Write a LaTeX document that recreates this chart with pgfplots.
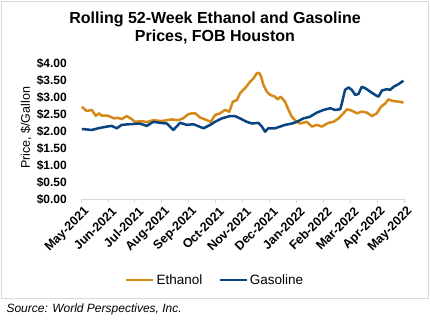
\documentclass[border=0pt]{standalone}
\usepackage{pgfplots}
\pgfplotsset{compat=1.18}
\usepackage{fontspec}
\setmainfont{Liberation Sans}
\definecolor{eth}{RGB}{214,137,22}
\definecolor{gas}{RGB}{10,68,128}
\definecolor{frame}{RGB}{217,217,217}
\begin{document}
\begin{tikzpicture}[x=1pt,y=1pt]
\useasboundingbox (0,0) rectangle (430,322);
\fill[white] (0,0) rectangle (430,322);
\draw[frame, line width=0.8pt] (1,24) rectangle (428,321);
\node[align=center, font=\bfseries\fontsize{16}{18}\selectfont] at (215,294) {Rolling 52-Week Ethanol and Gasoline\\Prices, FOB Houston};
\node[rotate=90, font=\fontsize{12.5}{15}\selectfont] at (26,194) {Price, \$/Gallon};
\node[anchor=west, font=\itshape\fontsize{12}{14}\selectfont] at (3,13) {Source: World Perspectives, Inc.};
\begin{axis}[
  at={(81pt,123pt)}, anchor=south west,
  scale only axis, width=323pt, height=136pt,
  xmin=0, xmax=12, ymin=0, ymax=4,
  axis lines*=left,
  y axis line style={draw=none},
  x axis line style={draw=frame, line width=0.8pt},
  xtick={0,1,2,3,4,5,6,7,8,9,10,11,12},
  xticklabels={May-2021,Jun-2021,Jul-2021,Aug-2021,Sep-2021,Oct-2021,Nov-2021,Dec-2021,Jan-2022,Feb-2022,Mar-2022,Apr-2022,May-2022},
  xticklabel style={rotate=45, anchor=east, font=\bfseries\fontsize{12.5}{15}\selectfont, inner sep=1pt, yshift=-9pt, xshift=1pt},
  tick align=outside, major tick length=4pt,
  xtick style={draw=frame, line width=0.8pt},
  ytick={0,0.5,1,1.5,2,2.5,3,3.5,4},
  yticklabels={\$0.00,\$0.50,\$1.00,\$1.50,\$2.00,\$2.50,\$3.00,\$3.50,\$4.00},
  yticklabel style={font=\bfseries\fontsize{12}{14}\selectfont, inner sep=1pt, xshift=-9pt},
  ytick style={draw=none},
  legend columns=2,
  legend style={draw=none, at={(0.415,-0.596)}, anchor=center, font=\fontsize{13.5}{15}\selectfont,
    /tikz/every even column/.append style={column sep=14pt}},
  legend image code/.code={\draw[line width=2.5pt] (0pt,0pt) -- (27pt,0pt);},
]
\addplot[eth, line width=2.5pt, line join=round] coordinates {
(0.03,2.71)(0.21,2.59)(0.40,2.62)(0.55,2.45)(0.67,2.52)(0.77,2.45)(1.00,2.45)(1.23,2.37)(1.36,2.39)(1.51,2.35)
(1.70,2.44)(1.88,2.35)(2.01,2.27)(2.26,2.29)(2.44,2.26)(2.68,2.32)(3.00,2.29)(3.19,2.32)(3.37,2.34)(3.61,2.32)
(3.79,2.37)(3.98,2.49)(4.12,2.52)(4.24,2.52)(4.42,2.40)(4.67,2.32)(4.82,2.27)(4.98,2.47)(5.17,2.52)(5.35,2.62)
(5.51,2.57)(5.64,2.86)(5.79,2.91)(5.91,3.11)(6.03,3.21)(6.16,3.32)(6.28,3.45)(6.41,3.55)(6.53,3.70)(6.62,3.71)
(6.69,3.60)(6.78,3.35)(6.90,3.16)(7.03,3.06)(7.21,3.01)(7.30,2.93)(7.42,3.01)(7.58,2.86)(7.71,2.62)(7.83,2.42)
(7.99,2.29)(8.14,2.22)(8.39,2.27)(8.58,2.13)(8.76,2.18)(8.95,2.13)(9.19,2.24)(9.38,2.27)(9.57,2.37)(9.75,2.52)
(9.88,2.64)(10.06,2.60)(10.25,2.52)(10.43,2.57)(10.62,2.54)(10.81,2.44)(10.99,2.52)(11.14,2.71)(11.30,2.81)
(11.42,2.93)(11.55,2.89)(11.71,2.87)(11.86,2.86)(11.98,2.83)
};
\addlegendentry{Ethanol}
\addplot[gas, line width=2.5pt, line join=round] coordinates {
(0.03,2.06)(0.40,2.03)(0.64,2.08)(0.96,2.13)(1.14,2.15)(1.33,2.08)(1.51,2.18)(1.82,2.20)(2.19,2.22)(2.44,2.15)
(2.69,2.27)(2.94,2.24)(3.19,2.22)(3.43,2.03)(3.68,2.24)(3.93,2.18)(4.17,2.20)(4.30,2.16)(4.55,2.08)(4.80,2.18)
(4.98,2.27)(5.23,2.37)(5.54,2.44)(5.72,2.44)(5.91,2.37)(6.16,2.27)(6.35,2.22)(6.59,2.24)(6.72,2.13)(6.84,1.98)
(6.96,2.08)(7.21,2.08)(7.40,2.13)(7.58,2.18)(7.83,2.22)(8.02,2.27)(8.26,2.37)(8.51,2.42)(8.76,2.54)(9.01,2.62)
(9.26,2.67)(9.44,2.62)(9.63,2.64)(9.69,2.81)(9.81,3.21)(9.94,3.28)(10.06,3.21)(10.19,3.06)(10.31,3.09)(10.43,3.30)
(10.56,3.26)(10.74,3.16)(10.93,3.06)(11.05,3.01)(11.18,3.19)(11.36,3.23)(11.49,3.21)(11.61,3.30)(11.80,3.38)(11.98,3.48)
};
\addlegendentry{Gasoline}
\end{axis}
\end{tikzpicture}
\end{document}
